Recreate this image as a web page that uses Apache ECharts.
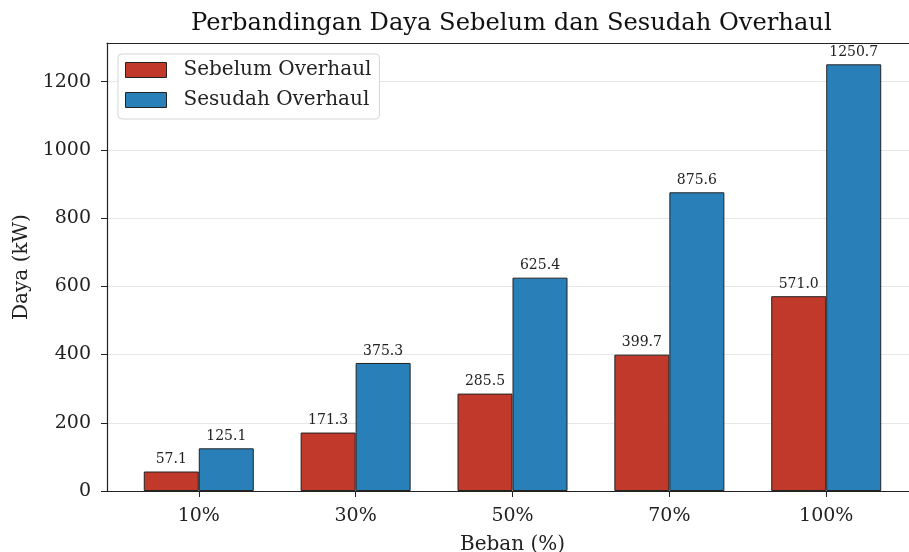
<!DOCTYPE html>
<html>
<head>
<meta charset="utf-8">
<script src="https://cdn.jsdelivr.net/npm/echarts@6/dist/echarts.min.js"></script>
<style>
  html, body { margin: 0; padding: 0; background: #fff; }
  #chart-container { width: 909px; height: 552px; }
</style>
</head>
<body>
<div id="chart-container"></div>
<script>
// data
const bebanLabels = ['10%', '30%', '50%', '70%', '100%'];
const sebelum = [57.1, 171.3, 285.5, 399.7, 571.0];
const sesudah = [125.1, 375.3, 625.4, 875.6, 1250.7];
const yTicks = [0, 200, 400, 600, 800, 1000, 1200];

const FONT = 'DejaVu Serif';
const xIdx = bebanLabels.map((_, i) => i);
const X_MIN = -0.585, X_MAX = 4.585;

const toPoints = arr => arr.map((v, i) => [i, v]);

const barLabel = {
  show: true,
  position: 'top',
  distance: 5,
  fontFamily: FONT,
  fontSize: 14,
  color: '#222',
  formatter: p => p.value[1].toFixed(1)
};

const option = {
  animation: false,
  backgroundColor: '#fff',
  title: {
    text: 'Perbandingan Daya Sebelum dan Sesudah Overhaul',
    left: 186,
    top: 7,
    textStyle: { fontFamily: FONT, fontSize: 24.2, fontWeight: 'normal', color: '#111' }
  },
  legend: {
    orient: 'vertical',
    left: 118,
    top: 54,
    icon: 'rect',
    itemWidth: 41,
    itemHeight: 15,
    itemGap: 10,
    padding: [6, 8, 9, 7],
    backgroundColor: '#fff',
    borderColor: '#d5d5d5',
    borderWidth: 1,
    borderRadius: 4,
    itemStyle: { borderWidth: 1 },
    textStyle: { fontFamily: FONT, fontSize: 20, color: '#222', padding: [0, 0, 0, 12] }
  },
  grid: {
    left: 107, right: -9, top: 43, bottom: 61,
    outerBoundsMode: 'none',
    show: false,
    containLabel: false
  },
  xAxis: [
    {
      type: 'value',
      min: X_MIN,
      max: X_MAX,
      name: 'Beban (%)',
      nameLocation: 'middle',
      nameGap: 44,
      nameTextStyle: { fontFamily: FONT, fontSize: 20, color: '#222' },
      axisLine: { show: true, onZero: false, lineStyle: { color: '#222', width: 1.2 } },
      axisTick: { show: true, length: 6, customValues: xIdx, lineStyle: { color: '#222' } },
      axisLabel: {
        customValues: xIdx,
        margin: 16,
        fontFamily: FONT, fontSize: 19, color: '#222',
        formatter: v => bebanLabels[Math.round(v)]
      },
      splitLine: { show: false }
    },
    {
      // top spine only
      type: 'value',
      position: 'top',
      min: X_MIN,
      max: X_MAX,
      axisLine: { show: true, onZero: false, lineStyle: { color: '#222', width: 1.2 } },
      axisTick: { show: false },
      axisLabel: { show: false },
      splitLine: { show: false }
    }
  ],
  yAxis: {
    type: 'value',
    min: 0,
    max: 1313.2,
    interval: 200,
    name: 'Daya (kW)',
    nameLocation: 'middle',
    nameGap: 73,
    nameTextStyle: { fontFamily: FONT, fontSize: 20, color: '#222' },
    axisLine: { show: true, onZero: false, lineStyle: { color: '#222', width: 1.2 } },
    axisTick: { show: true, length: 6, customValues: yTicks, lineStyle: { color: '#222' } },
    axisLabel: {
      customValues: yTicks,
      margin: 16,
      fontFamily: FONT, fontSize: 19, color: '#222',
      formatter: v => String(v)
    },
    splitLine: { show: true, lineStyle: { color: '#e6e6e6', width: 1 } }
  },
  series: [
    {
      name: 'Sebelum Overhaul',
      type: 'bar',
      data: toPoints(sebelum),
      barWidth: 55,
      barGap: '0%',
      itemStyle: { color: '#c0392b', borderColor: '#222', borderWidth: 1 },
      label: barLabel
    },
    {
      name: 'Sesudah Overhaul',
      type: 'bar',
      data: toPoints(sesudah),
      barWidth: 55,
      barGap: '0%',
      itemStyle: { color: '#2980b9', borderColor: '#222', borderWidth: 1 },
      label: barLabel
    }
  ]
};

const chart = echarts.init(document.getElementById('chart-container'));
chart.setOption(option);
</script>
</body>
</html>
